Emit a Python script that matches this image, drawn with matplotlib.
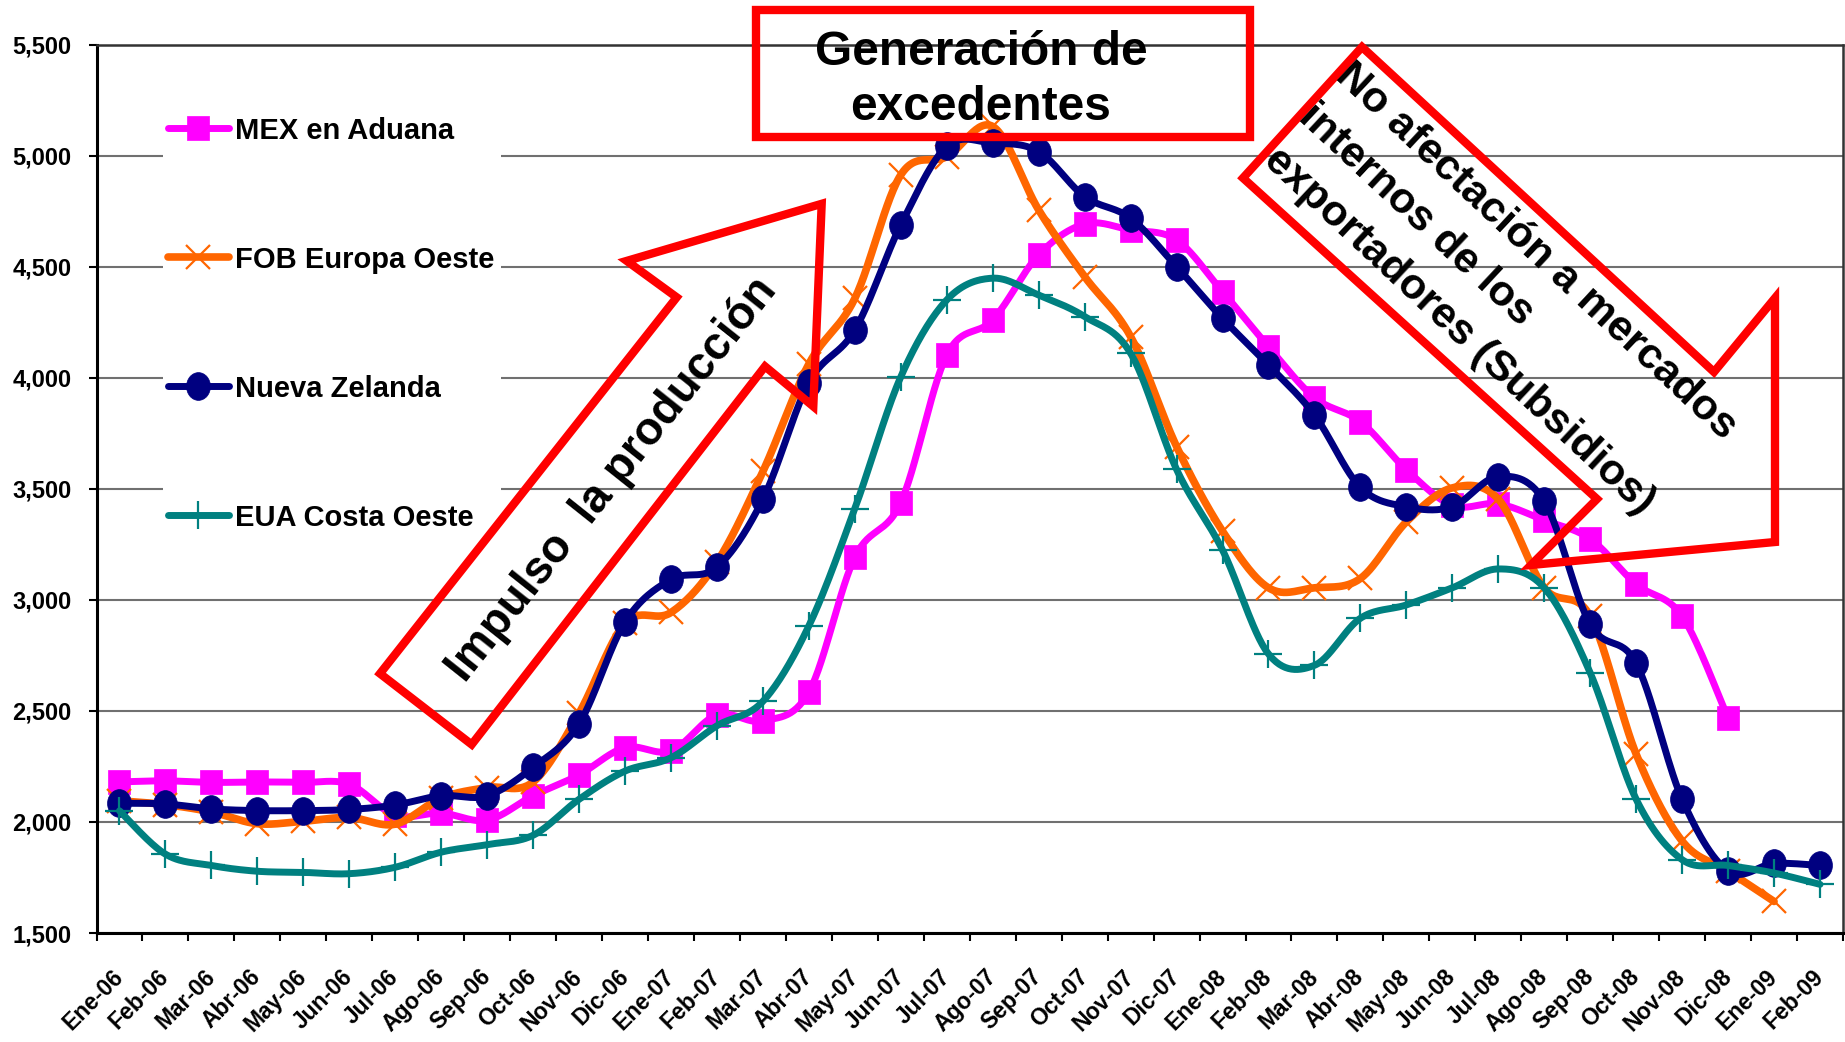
import numpy as np
import matplotlib
matplotlib.use("Agg")
import matplotlib.pyplot as plt
from matplotlib.lines import Line2D
from matplotlib.patches import Polygon, Rectangle
from matplotlib.path import Path
from matplotlib.transforms import Affine2D

plt.rcParams['font.family'] = ['Liberation Sans', 'DejaVu Sans']
plt.rcParams['font.weight'] = 'bold'

categories = ['Ene-06', 'Feb-06', 'Mar-06', 'Abr-06', 'May-06', 'Jun-06', 'Jul-06', 'Ago-06',
              'Sep-06', 'Oct-06', 'Nov-06', 'Dic-06', 'Ene-07', 'Feb-07', 'Mar-07', 'Abr-07',
              'May-07', 'Jun-07', 'Jul-07', 'Ago-07', 'Sep-07', 'Oct-07', 'Nov-07', 'Dic-07',
              'Ene-08', 'Feb-08', 'Mar-08', 'Abr-08', 'May-08', 'Jun-08', 'Jul-08', 'Ago-08',
              'Sep-08', 'Oct-08', 'Nov-08', 'Dic-08', 'Ene-09', 'Feb-09']

mex_aduana = [2180, 2185, 2178, 2180, 2178, 2170, 2030, 2040, 2008, 2118, 2212, 2335,
              2320, 2482, 2455, 2585, 3192, 3438, 4102, 4260, 4553, 4692, 4665, 4620,
              4387, 4140, 3910, 3802, 3586, 3425, 3432, 3358, 3274, 3070, 2926, 2467]

fob_europa = [2095, 2078, 2045, 1992, 2003, 2020, 1990, 2108, 2155, 2180, 2490, 2895,
              2943, 3170, 3578, 4062, 4357, 4913, 4995, 5131, 4755, 4455, 4185, 3690,
              3309, 3054, 3054, 3096, 3351, 3504, 3453, 3054, 2926, 2305, 1914, 1779, 1642]

nueva_zelanda = [2084, 2081, 2059, 2051, 2051, 2056, 2076, 2118, 2118, 2246, 2442, 2900,
                 3092, 3147, 3453, 3978, 4215, 4688, 5041, 5056, 5018, 4815, 4718, 4500,
                 4267, 4057, 3832, 3506, 3419, 3419, 3555, 3444, 2889, 2714, 2102, 1779,
                 1813, 1804]

eua_costa = [2050, 1855, 1804, 1778, 1773, 1767, 1796, 1864, 1898, 1940, 2102, 2229,
             2289, 2433, 2543, 2883, 3411, 4004, 4350, 4448, 4372, 4275, 4110, 3587,
             3224, 2756, 2705, 2917, 2977, 3054, 3139, 3054, 2671, 2102, 1830, 1804,
             1770, 1719]

series_labels = ['MEX en Aduana', 'FOB Europa Oeste', 'Nueva Zelanda', 'EUA Costa Oeste']
y_ticks = [1500, 2000, 2500, 3000, 3500, 4000, 4500, 5000, 5500]

W, H = 1845, 1042
fig = plt.figure(figsize=(W / 100, H / 100), dpi=100)
ax = fig.add_axes([96.5 / W, 1 - 933 / H, (1843 - 96.5) / W, (933 - 44.5) / H])


def FX(x):
    return x / W


def FY(y):
    return 1 - y / H


def smooth(xs, ys, n=30):
    pts = np.column_stack([np.asarray(xs, float), np.asarray(ys, float)])
    out = []
    m = len(pts)
    for i in range(m - 1):
        p0 = pts[i - 1] if i > 0 else pts[i]
        p1, p2 = pts[i], pts[i + 1]
        p3 = pts[i + 2] if i + 2 < m else pts[i + 1]
        c1 = p1 + (p2 - p0) / 6.0
        c2 = p2 - (p3 - p1) / 6.0
        t = np.linspace(0, 1, n, endpoint=(i == m - 2))[:, None]
        b = ((1 - t) ** 3) * p1 + 3 * ((1 - t) ** 2) * t * c1 + 3 * (1 - t) * t ** 2 * c2 + t ** 3 * p2
        out.append(b)
    arr = np.vstack(out)
    return arr[:, 0], arr[:, 1]


ellipse = Path.unit_circle().transformed(Affine2D().scale(0.86, 1.0))
tall_sq = Path([(-0.45, -0.5), (0.45, -0.5), (0.45, 0.5), (-0.45, 0.5), (-0.45, -0.5)],
               [Path.MOVETO, Path.LINETO, Path.LINETO, Path.LINETO, Path.CLOSEPOLY])

styles = [
    dict(data=mex_aduana, color='#FF00FF', lw=5.0, marker=tall_sq, ms=17, mew=0.5, z=3),
    dict(data=fob_europa, color='#FF6600', lw=5.5, marker='x', ms=17, mew=1.6, z=4),
    dict(data=nueva_zelanda, color='#000080', lw=5.0, marker=ellipse, ms=20, mew=0.5, z=5),
    dict(data=eua_costa, color='#008080', lw=5.0, marker='+', ms=20, mew=1.6, z=6),
]

for st in styles:
    d = st['data']
    xs = np.arange(len(d))
    sx, sy = smooth(xs, d)
    ax.plot(sx, sy, color=st['color'], lw=st['lw'], solid_capstyle='round', zorder=st['z'])
    ax.plot(xs, d, linestyle='none', marker=st['marker'], ms=st['ms'],
            mfc=st['color'], mec=st['color'], mew=st['mew'], zorder=st['z'] + 0.1)

ax.set_xlim(-0.5, len(categories) - 0.5)
ax.set_ylim(1500, 5500)
ax.set_yticks(y_ticks)
ax.set_yticklabels([f'{v:,}' for v in y_ticks], fontsize=17, fontweight='bold')
ax.set_xticks(np.arange(len(categories)))
ax.set_xticklabels(categories, rotation=45, ha='right', va='center', rotation_mode='anchor',
                   fontsize=16.5, fontweight='bold')
ax.set_xticks(np.arange(len(categories) + 1) - 0.5, minor=True)
ax.tick_params(axis='x', which='major', length=0, pad=29)
ax.tick_params(axis='x', which='minor', length=6, width=1.5, color='black', direction='out')
ax.tick_params(axis='y', which='major', length=6, width=1.5, color='black', direction='out', pad=12)
ax.grid(axis='y', color='#707070', lw=1.5, zorder=0)
ax.set_axisbelow(True)
for s in ['left', 'bottom']:
    ax.spines[s].set_linewidth(2.2)
    ax.spines[s].set_color('black')
for s in ['top', 'right']:
    ax.spines[s].set_linewidth(1.8)
    ax.spines[s].set_color('#333333')

# legend (manual, white backing)
fig.add_artist(Rectangle((FX(163), FY(560)), (501 - 163) / W, (560 - 55) / H,
                         transform=fig.transFigure, facecolor='white', edgecolor='none', zorder=1))
leg_y = [128, 257, 386, 515]
for st, lab, yy in zip(styles, series_labels, leg_y):
    fig.add_artist(Line2D([FX(168), FX(229)], [FY(yy), FY(yy)], transform=fig.transFigure,
                          color=st['color'], lw=st['lw'], solid_capstyle='round', zorder=2))
    fig.add_artist(Line2D([FX(198)], [FY(yy)], transform=fig.transFigure, linestyle='none',
                          marker=st['marker'], ms=st['ms'], mfc=st['color'], mec=st['color'],
                          mew=st['mew'], zorder=2.1))
    fig.text(FX(235), FY(yy + 3), lab, ha='left', va='center', fontsize=21,
             fontweight='bold', zorder=3)

red = '#FF0000'
# Box "Generación de excedentes"
fig.add_artist(Rectangle((FX(756), FY(137)), (1250 - 756) / W, (137 - 10) / H,
                         transform=fig.transFigure, fill=False, edgecolor=red, lw=6,
                         joinstyle='miter', zorder=10))
fig.text(FX(981), FY(80), 'Generación de\nexcedentes', ha='center', va='center',
         fontsize=34.5, fontweight='bold', linespacing=1.3, zorder=11)

# Up-right arrow
arrow1 = [(821.7, 203.8), (626.7, 260.9), (676.7, 297.3), (380, 673.6),
          (471.7, 744.5), (765, 366.4), (813.3, 406.4)]
fig.add_artist(Polygon([(FX(x), FY(y)) for x, y in arrow1], closed=True,
                       transform=fig.transFigure, fill=False, edgecolor=red, lw=6,
                       joinstyle='miter', zorder=10))
fig.text(FX(612), FY(480), 'Impulso  la producción', ha='center', va='center',
         rotation=51.5, rotation_mode='anchor', fontsize=33, fontweight='bold', zorder=11)

# Down-right arrow
arrow2 = [(1362, 47), (1714, 372), (1775, 298), (1775, 542),
          (1531, 565), (1597, 499), (1243, 178)]
fig.add_artist(Polygon([(FX(x), FY(y)) for x, y in arrow2], closed=True,
                       transform=fig.transFigure, fill=False, edgecolor=red, lw=6,
                       joinstyle='miter', zorder=10))
lines2 = ['No afectación a mercados', 'internos de los', 'exportadores (Subsidios)']
starts = [(1342, 70), (1305, 111), (1270, 154)]
for txt, (x, y) in zip(lines2, starts):
    fig.text(FX(x), FY(y), txt, ha='left', va='center', rotation=-43,
             rotation_mode='anchor', fontsize=31, fontweight='bold', zorder=11)

fig.savefig('out.png', dpi=100)
